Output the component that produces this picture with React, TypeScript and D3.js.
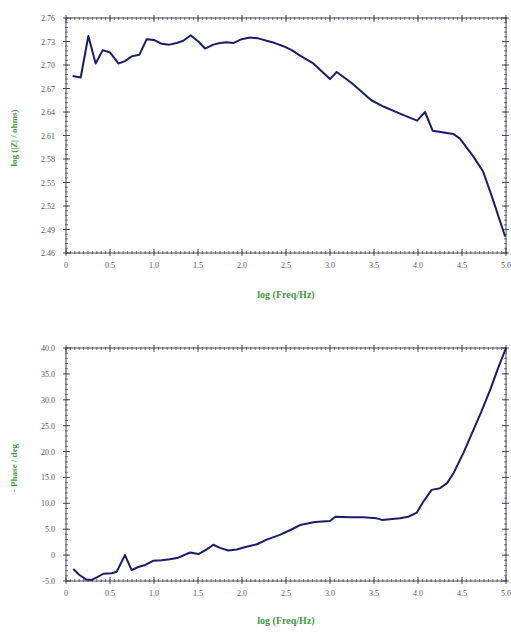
import React from 'react';
import * as d3 from 'd3';

// Bode plot data
const logFreqZ = [0.076, 0.167, 0.254, 0.337, 0.417, 0.5, 0.595, 0.67, 0.746, 0.833, 0.917, 1.0, 1.087, 1.174, 1.258, 1.333, 1.417, 1.504, 1.58, 1.674, 1.75, 1.826, 1.9, 1.996, 2.09, 2.185, 2.28, 2.375, 2.47, 2.565, 2.66, 2.81, 3.0, 3.076, 3.246, 3.47, 3.606, 3.795, 3.99, 4.08, 4.167, 4.4, 4.477, 4.63, 4.74, 4.84, 4.99];
const logZ = [2.686, 2.684, 2.737, 2.702, 2.719, 2.716, 2.702, 2.705, 2.711, 2.713, 2.733, 2.732, 2.727, 2.726, 2.728, 2.731, 2.738, 2.73, 2.721, 2.726, 2.728, 2.729, 2.728, 2.733, 2.735, 2.734, 2.731, 2.728, 2.724, 2.719, 2.712, 2.702, 2.682, 2.691, 2.677, 2.655, 2.647, 2.638, 2.629, 2.64, 2.616, 2.612, 2.606, 2.583, 2.564, 2.532, 2.481];

const logFreqP = [0.083, 0.15, 0.227, 0.29, 0.35, 0.424, 0.52, 0.576, 0.67, 0.746, 0.82, 0.9, 0.99, 1.087, 1.18, 1.276, 1.41, 1.504, 1.6, 1.674, 1.75, 1.845, 1.94, 2.05, 2.17, 2.28, 2.43, 2.545, 2.66, 2.83, 3.0, 3.06, 3.23, 3.38, 3.53, 3.59, 3.795, 3.89, 3.985, 4.06, 4.155, 4.25, 4.33, 4.4, 4.515, 4.63, 4.72, 4.82, 4.91, 5.0];
const phase = [-2.7, -3.8, -4.7, -4.8, -4.3, -3.6, -3.5, -3.2, 0.0, -2.9, -2.3, -1.9, -1.1, -1.0, -0.8, -0.5, 0.5, 0.2, 1.1, 2.0, 1.4, 0.9, 1.1, 1.6, 2.1, 3.0, 3.9, 4.8, 5.8, 6.4, 6.6, 7.4, 7.3, 7.3, 7.1, 6.8, 7.1, 7.4, 8.2, 10.3, 12.6, 12.9, 13.9, 15.7, 19.7, 24.2, 27.7, 31.9, 36.1, 40.0];

const xTicks = [0, 0.5, 1, 1.5, 2, 2.5, 3, 3.5, 4, 4.5, 5];
const zTicks = [2.46, 2.49, 2.52, 2.55, 2.58, 2.61, 2.64, 2.67, 2.7, 2.73, 2.76];
const pTicks = [-5, 0, 5, 10, 15, 20, 25, 30, 35, 40];

const green = '#3c9a3c';
const axisColor = '#4a4a60';
const labelColor = '#555';
const lineColor = '#1c1c6e';

type PanelProps = {
  top: number;
  bottom: number;
  xs: number[];
  ys: number[];
  yTicks: number[];
  yDomain: [number, number];
  yMinorStep: number;
  fmtY: (v: number) => string;
  yTitle: string;
  yTitleY: number;
  xTitleY: number;
};

const left = 66;
const right = 506;

function Panel(p: PanelProps) {
  const x = d3.scaleLinear().domain([0, 5]).range([left, right]);
  const y = d3.scaleLinear().domain(p.yDomain).range([p.bottom, p.top]);
  const line = d3.line<number>()
    .x((d) => x(d))
    .y((_, i) => y(p.ys[i]));
  const xMinor = d3.range(0, 5.0001, 0.05);
  const yMinor = d3.range(p.yDomain[0], p.yDomain[1] + 1e-6, p.yMinorStep);
  const fmtX = (v: number) => (v === 0 ? '0' : v.toFixed(1));
  return (
    <g>
      <rect x={left} y={p.top} width={right - left} height={p.bottom - p.top} fill="none" stroke={axisColor} strokeWidth={1} />
      {xMinor.map((v, i) => (
        <g key={'xm' + i} stroke={axisColor} strokeWidth={0.8}>
          <line x1={x(v)} x2={x(v)} y1={p.bottom - 2} y2={p.bottom + 1} />
          <line x1={x(v)} x2={x(v)} y1={p.top - 1} y2={p.top + 2} />
        </g>
      ))}
      {yMinor.map((v, i) => (
        <g key={'ym' + i} stroke={axisColor} strokeWidth={0.8}>
          <line x1={left - 1} x2={left + 2} y1={y(v)} y2={y(v)} />
          <line x1={right - 2} x2={right + 1} y1={y(v)} y2={y(v)} />
        </g>
      ))}
      {xTicks.map((v) => (
        <g key={'x' + v}>
          <line x1={x(v)} x2={x(v)} y1={p.bottom - 4} y2={p.bottom + 3} stroke={axisColor} />
          <line x1={x(v)} x2={x(v)} y1={p.top - 3} y2={p.top + 4} stroke={axisColor} />
          <text x={x(v)} y={p.bottom + 15} textAnchor="middle" fontSize={8} fontFamily="Liberation Serif" fill={labelColor}>
            {fmtX(v)}
          </text>
        </g>
      ))}
      {p.yTicks.map((v) => (
        <g key={'y' + v}>
          <line x1={left - 3} x2={left + 4} y1={y(v)} y2={y(v)} stroke={axisColor} />
          <line x1={right - 4} x2={right + 3} y1={y(v)} y2={y(v)} stroke={axisColor} />
          <text x={left - 11} y={y(v) + 3} textAnchor="end" fontSize={8} fontFamily="Liberation Serif" fill={labelColor}>
            {p.fmtY(v)}
          </text>
        </g>
      ))}
      <path d={line(p.xs) ?? ''} fill="none" stroke={lineColor} strokeWidth={2} strokeLinejoin="round" />
      <text x={(left + right) / 2} y={p.xTitleY} textAnchor="middle" fontSize={10} fontWeight="bold" fontFamily="Liberation Serif" fill={green}>
        log (Freq/Hz)
      </text>
      <text transform={`translate(17,${p.yTitleY}) rotate(-90)`} textAnchor="middle" fontSize={9} fontWeight="bold" fontFamily="Liberation Serif" fill={green}>
        {p.yTitle}
      </text>
    </g>
  );
}

export default function App() {
  return (
    <svg width={511} height={634} style={{ position: 'absolute', left: 0, top: 0, background: '#fff' }}>
      <Panel
        top={18}
        bottom={253}
        xs={logFreqZ}
        ys={logZ}
        yTicks={zTicks}
        yDomain={[2.46, 2.76]}
        yMinorStep={0.006}
        fmtY={(v) => v.toFixed(2)}
        yTitle="log (|Z| / ohms)"
        yTitleY={138}
        xTitleY={298}
      />
      <Panel
        top={348}
        bottom={581}
        xs={logFreqP}
        ys={phase}
        yTicks={pTicks}
        yDomain={[-5, 40]}
        yMinorStep={1}
        fmtY={(v) => (v === 0 ? '0' : v.toFixed(1))}
        yTitle="- Phase / deg"
        yTitleY={468}
        xTitleY={624}
      />
    </svg>
  );
}
